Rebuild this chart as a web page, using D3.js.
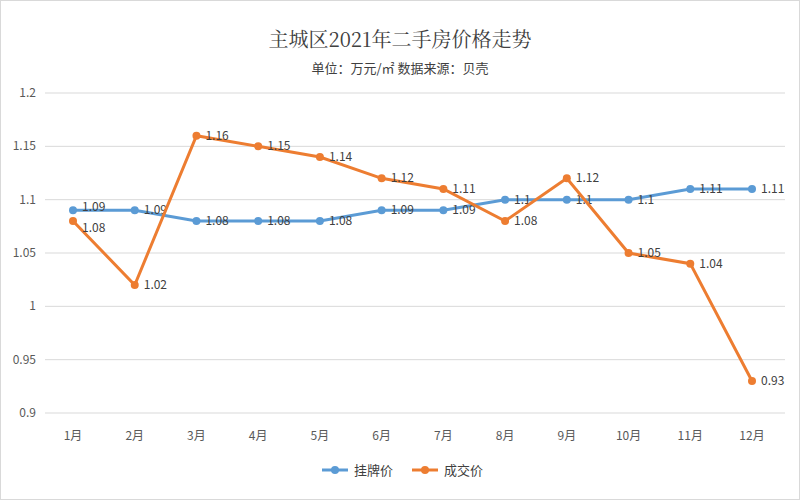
<!DOCTYPE html>
<html>
<head>
<meta charset="utf-8">
<script src="https://cdn.jsdelivr.net/npm/d3@7"></script>
<style>
  body { margin: 0; background: #fff; font-family: "Noto Sans CJK SC", "Noto Sans", sans-serif; }
</style>
</head>
<body>
<svg id="chart" width="800" height="500"></svg>
<script>
// data
var months = ["1月", "2月", "3月", "4月", "5月", "6月", "7月", "8月", "9月", "10月", "11月", "12月"];
var listPrice = [1.09, 1.09, 1.08, 1.08, 1.08, 1.09, 1.09, 1.1, 1.1, 1.1, 1.11, 1.11];
var dealPrice = [1.08, 1.02, 1.16, 1.15, 1.14, 1.12, 1.11, 1.08, 1.12, 1.05, 1.04, 0.93];
var yTicks = [0.9, 0.95, 1, 1.05, 1.1, 1.15, 1.2];
var seriesNames = ["挂牌价", "成交价"];
var colors = ["#5b9bd5", "#ed7d31"];

var svg = d3.select("#chart");
svg.append("rect").attr("x", 0.5).attr("y", 0.5).attr("width", 799).attr("height", 499)
    .attr("fill", "#fff").attr("stroke", "#d9d9d9");

var x = d3.scalePoint().domain(months).range([73, 752]).padding(0);
var y = d3.scaleLinear().domain([0.9, 1.2]).range([413, 93]);

// gridlines
svg.append("g").selectAll("line").data(yTicks).join("line")
    .attr("x1", 45).attr("x2", 785)
    .attr("y1", function (d) { return y(d); }).attr("y2", function (d) { return y(d); })
    .attr("stroke", "#d9d9d9");

svg.append("g").selectAll("text").data(yTicks).join("text")
    .attr("x", 36).attr("y", function (d) { return y(d) + 4; })
    .attr("text-anchor", "end").attr("font-size", 12).attr("fill", "#595959")
    .text(function (d) { return String(d); });

svg.append("g").selectAll("text").data(months).join("text")
    .attr("x", function (d) { return x(d); }).attr("y", 440)
    .attr("text-anchor", "middle").attr("font-size", 12).attr("fill", "#595959")
    .text(function (d) { return d; });

// titles
svg.append("text").attr("x", 400).attr("y", 47).attr("text-anchor", "middle")
    .attr("font-size", 20).attr("fill", "#404040")
    .attr("font-family", "'Noto Serif CJK SC', 'Noto Sans CJK SC', serif")
    .text("主城区2021年二手房价格走势");
svg.append("text").attr("x", 400).attr("y", 73).attr("text-anchor", "middle")
    .attr("font-size", 13).attr("fill", "#404040")
    .text("单位：万元/㎡  数据来源：贝壳");

var line = d3.line()
    .x(function (d, i) { return x(months[i]); })
    .y(function (d) { return y(d); });

[listPrice, dealPrice].forEach(function (vals, k) {
    var other = k === 0 ? dealPrice : listPrice;
    var g = svg.append("g");
    g.append("path").datum(vals).attr("d", line)
        .attr("fill", "none").attr("stroke", colors[k]).attr("stroke-width", 3);
    g.selectAll("circle").data(vals).join("circle")
        .attr("cx", function (d, i) { return x(months[i]); })
        .attr("cy", function (d) { return y(d); })
        .attr("r", 4).attr("fill", colors[k]);
    g.selectAll("text").data(vals).join("text")
        .attr("x", function (d, i) { return x(months[i]) + 9; })
        .attr("y", function (d, i) {
            // nudge apart labels that would collide with the other series
            var close = Math.abs(d - other[i]) < 0.015;
            var shift = close ? (d > other[i] ? -3 : 7) : 0;
            return y(d) + 4 + shift;
        })
        .attr("font-size", 12).attr("fill", "#404040")
        .text(function (d) { return String(d); });
});

// legend
var legend = svg.append("g").attr("transform", "translate(322,470)");
seriesNames.forEach(function (name, k) {
    var lg = legend.append("g").attr("transform", "translate(" + (k * 90) + ",0)");
    lg.append("line").attr("x1", 0).attr("x2", 26).attr("stroke", colors[k]).attr("stroke-width", 3);
    lg.append("circle").attr("cx", 13).attr("r", 4).attr("fill", colors[k]);
    lg.append("text").attr("x", 32).attr("y", 5).attr("font-size", 13).attr("fill", "#404040").text(name);
});
</script>
</body>
</html>
